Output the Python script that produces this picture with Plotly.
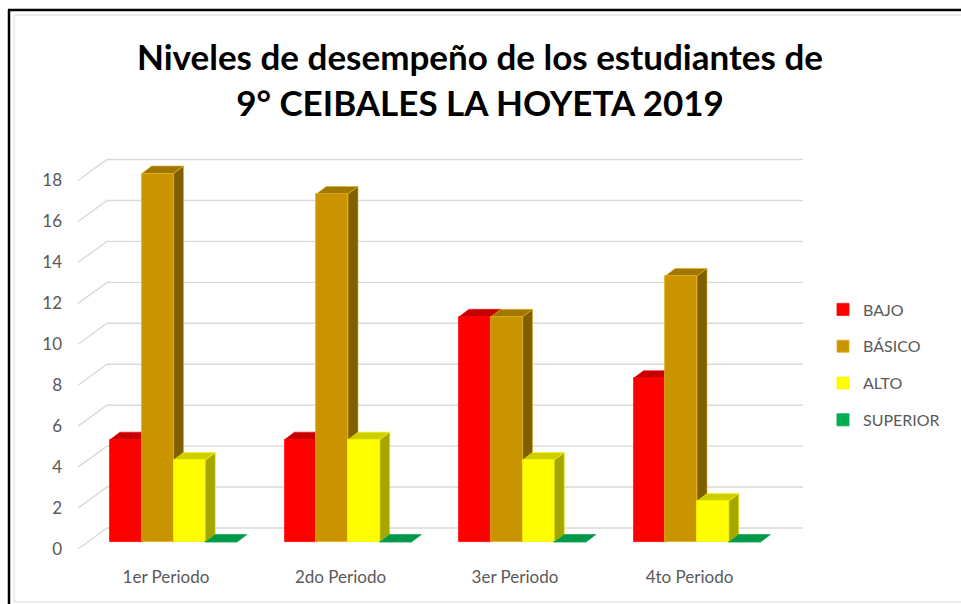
import plotly.graph_objects as go

# ---- data -------------------------------------------------------------
periods = ["1er Periodo", "2do Periodo", "3er Periodo", "4to Periodo"]
levels = ["BAJO", "BÁSICO", "ALTO", "SUPERIOR"]
bajo = [5, 5, 11, 8]
basico = [18, 17, 11, 13]
alto = [4, 5, 4, 2]
superior = [0, 0, 0, 0]
y_ticks = [0, 2, 4, 6, 8, 10, 12, 14, 16, 18]

series = [bajo, basico, alto, superior]

# face colours: front, top, right side, edge
colors = {
    "BAJO": ("#FF0000", "#C40000", "#9E0000", "#FF0000"),
    "BÁSICO": ("#C99400", "#A27700", "#7F5F00", "#E0B020"),
    "ALTO": ("#FFFF00", "#CFCF00", "#A6A600", "#F2F200"),
    "SUPERIOR": ("#00B050", "#00994A", "#007A3A", "#00A04A"),
}

# ---- page geometry (pixels) ------------------------------------------
W, H = 961, 604
L, R, T, B = 66, 810, 150, 556
PX_X = 174.5     # pixels between two periods
CAT0_PX = 166    # x pixel of the first period label
PX_Y = 20.47     # pixels per student
ZERO_PX = 542    # y pixel of 0 on the front plane of the bars

x_range = [(L - CAT0_PX) / PX_X, (R - CAT0_PX) / PX_X]
y_range = [(ZERO_PX - B) / PX_Y, (ZERO_PX - T) / PX_Y]


def px_x(px):
    return (px - CAT0_PX) / PX_X


def paper_x(px):
    return (px - L) / (R - L)


def paper_y(py):
    return (B - py) / (B - T)


# bar layout in data units
BAR_W = 31.75 / PX_X
FIRST_LEFT = px_x(110)
DX, DY = 10 / PX_X, 7.5 / PX_Y          # depth of each column
WALL_FRONT_X, WALL_BACK_X, WALL_END_X = px_x(78), px_x(107), px_x(803)
FLOOR_FRONT_DY, WALL_DY = -7 / PX_Y, 14 / PX_Y

GRID = "#D9D9D9"
TEXT = "#595959"
FONT = "Lato, Open Sans, sans-serif"

fig = go.Figure()

# front faces as bars
for k, (name, vals) in enumerate(zip(levels, series)):
    front, top, side, edge = colors[name]
    fig.add_trace(go.Bar(
        x=[i + FIRST_LEFT + (k + 0.5) * BAR_W for i in range(len(periods))],
        y=vals,
        width=BAR_W,
        name=name,
        legendgroup=name,
        marker=dict(color=front, line=dict(color=edge, width=0.8)),
        hovertemplate="%{y}<extra>" + name + "</extra>",
    ))

shapes = []

# back wall gridlines with the floor diagonal
for v in y_ticks:
    shapes.append(dict(
        type="path", xref="x", yref="y", layer="below",
        path=(f"M {WALL_FRONT_X},{v + FLOOR_FRONT_DY} "
              f"L {WALL_BACK_X},{v + WALL_DY} L {WALL_END_X},{v + WALL_DY}"),
        line=dict(color=GRID, width=1.4),
    ))

# right sides first, then tops, so a lower neighbour's top covers a side
side_shapes, top_shapes = [], []
for k, (name, vals) in enumerate(zip(levels, series)):
    front, top, side, edge = colors[name]
    for i, h in enumerate(vals):
        xl = i + FIRST_LEFT + k * BAR_W
        xr = xl + BAR_W
        if h > 0:
            side_shapes.append(dict(
                type="path", xref="x", yref="y", layer="below",
                path=(f"M {xr},0 L {xr},{h} L {xr + DX},{h + DY} "
                      f"L {xr + DX},{DY} Z"),
                fillcolor=side, line=dict(color=edge, width=0.6),
            ))
        top_shapes.append(dict(
            type="path", xref="x", yref="y", layer="below",
            path=(f"M {xl},{h} L {xr},{h} L {xr + DX},{h + DY} "
                  f"L {xl + DX},{h + DY} Z"),
            fillcolor=top, line=dict(color=edge, width=0.6),
        ))
shapes += side_shapes + top_shapes

# chart frame
shapes += [
    dict(type="line", xref="paper", yref="paper",
         x0=paper_x(8), x1=paper_x(961), y0=paper_y(10), y1=paper_y(10),
         line=dict(color="black", width=2.5)),
    dict(type="line", xref="paper", yref="paper",
         x0=paper_x(9), x1=paper_x(9), y0=paper_y(10), y1=paper_y(604),
         line=dict(color="black", width=2.5)),
    dict(type="path", xref="paper", yref="paper",
         path=(f"M {paper_x(961)},{paper_y(15)} L {paper_x(14)},{paper_y(15)} "
               f"L {paper_x(14)},{paper_y(602)} L {paper_x(961)},{paper_y(602)}"),
         line=dict(color=GRID, width=1)),
]

fig.update_layout(
    width=W, height=H,
    margin=dict(l=L, r=W - R, t=T, b=H - B, pad=0),
    paper_bgcolor="white", plot_bgcolor="white",
    barmode="overlay",
    bargap=0,
    shapes=shapes,
    title=dict(
        text="<b>Niveles de desempeño de los estudiantes de<br>9° CEIBALES LA HOYETA 2019</b>",
        x=480 / W, xref="container", xanchor="center",
        y=1 - 70 / H, yref="container", yanchor="middle",
        font=dict(family=FONT, size=35, color="black"),
    ),
    font=dict(family=FONT, size=16, color=TEXT),
    xaxis=dict(
        range=x_range, tickmode="array",
        tickvals=list(range(len(periods))), ticktext=periods,
        showgrid=False, zeroline=False, showline=False, ticks="",
        tickfont=dict(size=17, color=TEXT), ticklabelstandoff=9,
    ),
    yaxis=dict(
        range=y_range, tickmode="array", tickvals=y_ticks,
        showgrid=False, zeroline=False, showline=False, ticks="",
        tickfont=dict(size=17, color=TEXT), ticklabelshift=7,
        ticklabelstandoff=3,
    ),
    legend=dict(
        x=paper_x(823), xanchor="left", y=paper_y(365), yanchor="middle",
        font=dict(size=16, color=TEXT), tracegroupgap=13,
        bgcolor="rgba(0,0,0,0)", itemwidth=30,
    ),
    showlegend=True,
)

fig.write_html("out.html")
